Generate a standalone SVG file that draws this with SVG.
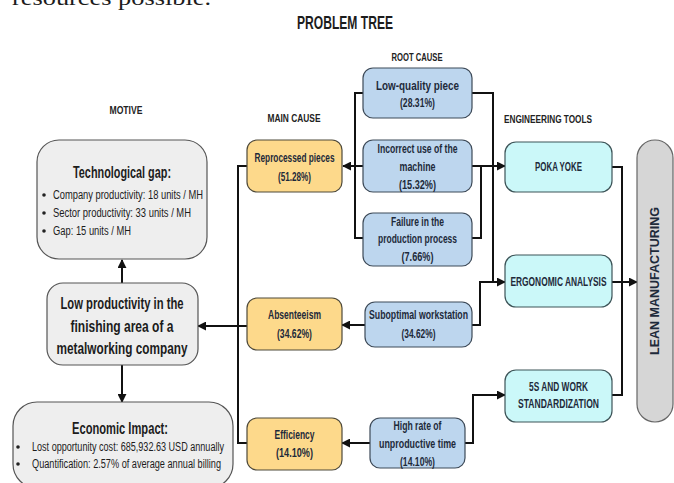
<svg xmlns="http://www.w3.org/2000/svg" width="674" height="483" viewBox="0 0 674 483">
  <style>
    text { font-family: "Liberation Sans", Arial, sans-serif; fill: #1c1c1c; }
    .b { font-weight: bold; }
    .c { text-anchor: middle; }
    .hdr { font-size: 11.5px; font-weight: bold; text-anchor: middle; fill: #222; }
    .lbl { font-size: 12.5px; font-weight: bold; text-anchor: middle; fill: #1e2a3a; }
    .big { font-size: 17px; font-weight: bold; text-anchor: middle; }
    .bul { font-size: 12px; }
    .root { fill: #bdd6ee; stroke: #3d4a58; stroke-width: 1.2; }
    .main { fill: #fdd98b; stroke: #4f4a3a; stroke-width: 1.2; }
    .tool { fill: #cbf8f9; stroke: #3d5458; stroke-width: 1.2; }
    .motive { fill: #eeeeee; stroke: #555; stroke-width: 1.2; }
    .pill { fill: #d6d6d6; stroke: #666; stroke-width: 1.2; }
    .wire { fill: none; stroke: #111; stroke-width: 2; }
  </style>
  <defs>
    <marker id="arrow" viewBox="0 0 10 10" refX="9" refY="5" markerWidth="4.5" markerHeight="4.5" orient="auto" markerUnits="strokeWidth">
      <path d="M0,0 L10,5 L0,10 z" fill="#111"/>
    </marker>
  </defs>

  <!-- running text of the page, clipped at the top edge -->
  <text x="12" y="5" font-size="21" textLength="199" lengthAdjust="spacingAndGlyphs" style="font-family:'Liberation Serif',serif">resources possible.</text>

  <!-- title and column headings -->
  <text class="c b" x="345" y="29" font-size="19" textLength="96" lengthAdjust="spacingAndGlyphs">PROBLEM TREE</text>
  <text class="hdr" x="417" y="61" textLength="51" lengthAdjust="spacingAndGlyphs">ROOT CAUSE</text>
  <text class="hdr" x="126" y="114" textLength="33" lengthAdjust="spacingAndGlyphs">MOTIVE</text>
  <text class="hdr" x="294" y="122" textLength="53" lengthAdjust="spacingAndGlyphs">MAIN CAUSE</text>
  <text class="hdr" x="548" y="123" textLength="88" lengthAdjust="spacingAndGlyphs">ENGINEERING TOOLS</text>

  <!-- connectors -->
  <g id="connectors">
    <!-- root causes to reprocessed pieces -->
    <path class="wire" d="M363,93 H355 V238 H363"/>
    <path class="wire" d="M363,166 H343" marker-end="url(#arrow)"/>
    <!-- root causes to tools -->
    <path class="wire" d="M472,93 H493 V282"/>
    <path class="wire" d="M472,166 H505" marker-end="url(#arrow)"/>
    <path class="wire" d="M472,238 H481 V166"/>
    <path class="wire" d="M472,325 H480 V282 H505" marker-end="url(#arrow)"/>
    <path class="wire" d="M465,443 H473 V395 H505" marker-end="url(#arrow)"/>
    <!-- root causes to main causes -->
    <path class="wire" d="M365,325 H342" marker-end="url(#arrow)"/>
    <path class="wire" d="M370,443 H342" marker-end="url(#arrow)"/>
    <!-- main causes to the problem -->
    <path class="wire" d="M247,166 H238 V443 H247"/>
    <path class="wire" d="M247,326 H198" marker-end="url(#arrow)"/>
    <!-- problem to motive and impact -->
    <path class="wire" d="M122,283 V260" marker-end="url(#arrow)"/>
    <path class="wire" d="M122,365 V402" marker-end="url(#arrow)"/>
    <!-- tools to lean manufacturing -->
    <path class="wire" d="M612,167 H622 V395 H612"/>
    <path class="wire" d="M612,282 H637" marker-end="url(#arrow)"/>
  </g>

  <!-- motive column -->
  <g id="tech-gap">
    <rect class="motive" x="37" y="140" width="170" height="119" rx="22"/>
    <text class="big" x="122" y="178" textLength="98" lengthAdjust="spacingAndGlyphs">Technological gap:</text>
    <circle cx="44" cy="195" r="1.8" fill="#222"/>
    <circle cx="44" cy="213" r="1.8" fill="#222"/>
    <circle cx="44" cy="231" r="1.8" fill="#222"/>
    <text class="bul" x="53" y="199" textLength="150" lengthAdjust="spacingAndGlyphs">Company productivity: 18 units / MH</text>
    <text class="bul" x="53" y="217" textLength="138" lengthAdjust="spacingAndGlyphs">Sector productivity: 33 units / MH</text>
    <text class="bul" x="53" y="235" textLength="78" lengthAdjust="spacingAndGlyphs">Gap: 15 units / MH</text>
  </g>

  <g id="low-productivity">
    <rect class="motive" x="47" y="283" width="151" height="82" rx="16"/>
    <text class="big" x="122" y="309" textLength="123" lengthAdjust="spacingAndGlyphs">Low productivity in the</text>
    <text class="big" x="122" y="332" textLength="103" lengthAdjust="spacingAndGlyphs">finishing area of a</text>
    <text class="big" x="122" y="354" textLength="131" lengthAdjust="spacingAndGlyphs">metalworking company</text>
  </g>

  <g id="economic-impact">
    <rect class="motive" x="13" y="402" width="220" height="86" rx="24"/>
    <text class="big" x="120" y="434" textLength="96" lengthAdjust="spacingAndGlyphs">Economic Impact:</text>
    <circle cx="18" cy="447" r="1.8" fill="#222"/>
    <circle cx="18" cy="464" r="1.8" fill="#222"/>
    <text class="bul" x="32" y="451" textLength="192" lengthAdjust="spacingAndGlyphs">Lost opportunity cost: 685,932.63 USD annually</text>
    <text class="bul" x="32" y="468" textLength="189" lengthAdjust="spacingAndGlyphs">Quantification: 2.57% of average annual billing</text>
  </g>

  <!-- main causes -->
  <g id="reprocessed">
    <rect class="main" x="247" y="140" width="95" height="52" rx="10"/>
    <text class="lbl" x="294.5" y="162" textLength="80" lengthAdjust="spacingAndGlyphs">Reprocessed pieces</text>
    <text class="lbl" x="294.5" y="181" textLength="33" lengthAdjust="spacingAndGlyphs">(51.28%)</text>
  </g>
  <g id="absenteeism">
    <rect class="main" x="247" y="298" width="95" height="52" rx="10"/>
    <text class="lbl" x="294.5" y="319" textLength="53" lengthAdjust="spacingAndGlyphs">Absenteeism</text>
    <text class="lbl" x="294.5" y="338" textLength="35" lengthAdjust="spacingAndGlyphs">(34.62%)</text>
  </g>
  <g id="efficiency">
    <rect class="main" x="247" y="418" width="95" height="52" rx="10"/>
    <text class="lbl" x="294.5" y="439" textLength="40" lengthAdjust="spacingAndGlyphs">Efficiency</text>
    <text class="lbl" x="294.5" y="457" textLength="37" lengthAdjust="spacingAndGlyphs">(14.10%)</text>
  </g>

  <!-- root causes -->
  <g id="low-quality">
    <rect class="root" x="363" y="68" width="109" height="50" rx="10"/>
    <text class="lbl" x="417.5" y="90" textLength="83" lengthAdjust="spacingAndGlyphs">Low-quality piece</text>
    <text class="lbl" x="417.5" y="107" textLength="35" lengthAdjust="spacingAndGlyphs">(28.31%)</text>
  </g>
  <g id="incorrect-use">
    <rect class="root" x="363" y="140" width="109" height="52" rx="10"/>
    <text class="lbl" x="417.5" y="153" textLength="80" lengthAdjust="spacingAndGlyphs">Incorrect use of the</text>
    <text class="lbl" x="417.5" y="171" textLength="36" lengthAdjust="spacingAndGlyphs">machine</text>
    <text class="lbl" x="417.5" y="189" textLength="37" lengthAdjust="spacingAndGlyphs">(15.32%)</text>
  </g>
  <g id="failure">
    <rect class="root" x="363" y="213" width="109" height="53" rx="10"/>
    <text class="lbl" x="417.5" y="226" textLength="53" lengthAdjust="spacingAndGlyphs">Failure in the</text>
    <text class="lbl" x="417.5" y="243" textLength="79" lengthAdjust="spacingAndGlyphs">production process</text>
    <text class="lbl" x="417.5" y="261" textLength="32" lengthAdjust="spacingAndGlyphs">(7.66%)</text>
  </g>
  <g id="suboptimal">
    <rect class="root" x="365" y="302" width="107" height="45" rx="10"/>
    <text class="lbl" x="418.5" y="319" textLength="99" lengthAdjust="spacingAndGlyphs">Suboptimal workstation</text>
    <text class="lbl" x="418.5" y="338" textLength="34" lengthAdjust="spacingAndGlyphs">(34.62%)</text>
  </g>
  <g id="unproductive-time">
    <rect class="root" x="370" y="418" width="95" height="50" rx="10"/>
    <text class="lbl" x="417.5" y="430" textLength="48" lengthAdjust="spacingAndGlyphs">High rate of</text>
    <text class="lbl" x="417.5" y="448" textLength="77" lengthAdjust="spacingAndGlyphs">unproductive time</text>
    <text class="lbl" x="417.5" y="466" textLength="35" lengthAdjust="spacingAndGlyphs">(14.10%)</text>
  </g>

  <!-- engineering tools -->
  <g id="poka-yoke">
    <rect class="tool" x="505" y="142" width="107" height="50" rx="11"/>
    <text class="lbl" x="558.5" y="171" textLength="47" lengthAdjust="spacingAndGlyphs">POKA YOKE</text>
  </g>
  <g id="ergonomic">
    <rect class="tool" x="505" y="255" width="107" height="52" rx="11"/>
    <text class="lbl" x="558.5" y="286" textLength="96" lengthAdjust="spacingAndGlyphs">ERGONOMIC ANALYSIS</text>
  </g>
  <g id="five-s">
    <rect class="tool" x="505" y="370" width="107" height="52" rx="11"/>
    <text class="lbl" x="558.5" y="391" textLength="59" lengthAdjust="spacingAndGlyphs">5S AND WORK</text>
    <text class="lbl" x="558.5" y="408" textLength="81" lengthAdjust="spacingAndGlyphs">STANDARDIZATION</text>
  </g>

  <!-- methodology -->
  <g id="lean">
    <rect class="pill" x="637" y="140" width="36" height="282" rx="18"/>
    <text class="lbl" x="0" y="0" transform="translate(659,281) rotate(-90)" style="font-size:12px" textLength="148" lengthAdjust="spacingAndGlyphs">LEAN MANUFACTURING</text>
  </g>
</svg>
